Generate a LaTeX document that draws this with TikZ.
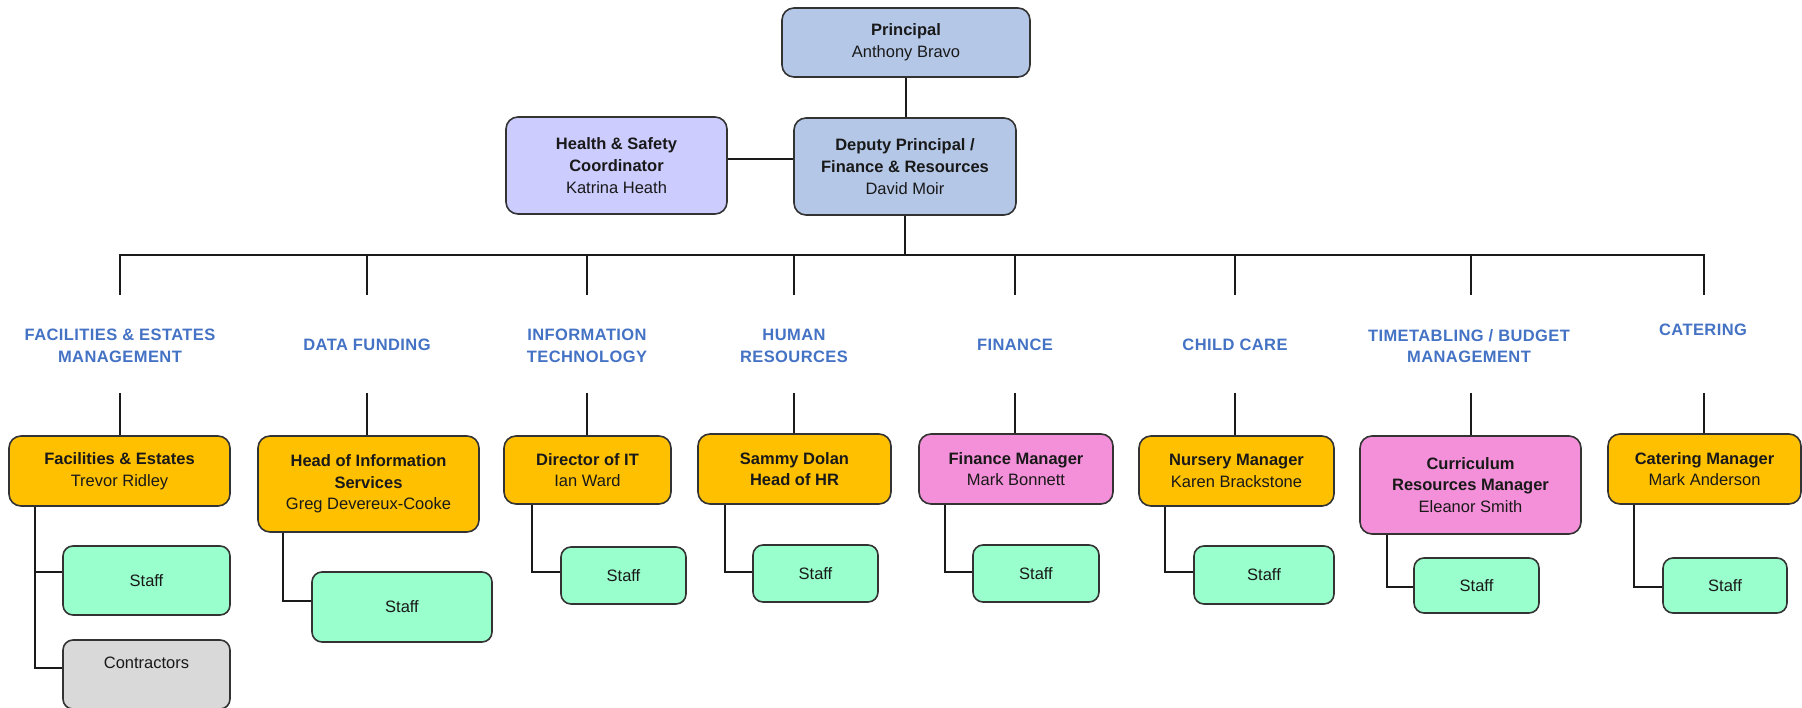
\documentclass[tikz,border=0pt]{standalone}
\usepackage{fontspec}
\setmainfont{Liberation Sans}
\newfontfamily\deptface[LetterSpace=2.5]{Liberation Sans}
\newcommand\chartfont{\fontsize{16.5}{21.7}\selectfont}
\definecolor{boxline}{HTML}{333333}
\definecolor{wire}{HTML}{1A1A1A}
\definecolor{topblue}{HTML}{B4C7E7}
\definecolor{safety}{HTML}{CCCCFF}
\definecolor{mgrorange}{HTML}{FFC000}
\definecolor{mgrpink}{HTML}{F490D9}
\definecolor{staffgreen}{HTML}{99FFCC}
\definecolor{contgray}{HTML}{D9D9D9}
\definecolor{deptblue}{HTML}{4472C4}
\begin{document}
\begin{tikzpicture}[x=1pt,y=-1pt,
  box/.style={draw=boxline, line width=1.6pt, rounded corners=12pt, inner sep=0pt,
              align=center, font=\chartfont, text=black!90},
  mgr/.style={box, fill=mgrorange},
  mgrp/.style={box, fill=mgrpink},
  staffbox/.style={box, fill=staffgreen, rounded corners=10pt},
  dept/.style={align=center, inner sep=0pt, font=\deptface\chartfont\bfseries, text=deptblue},
  wireline/.style={draw=wire, line width=1.5pt}]

\useasboundingbox (0,0) rectangle (1802,708);

% ---------- top of the chart ----------
\node[box, fill=topblue, minimum width=248pt, minimum height=69pt] (prin) at (906,42.5)
  {\textbf{Principal}\\Anthony Bravo};
\node[box, fill=topblue, minimum width=222pt, minimum height=97pt] (dep) at (905,166.5)
  {\textbf{Deputy Principal /}\\\textbf{Finance \& Resources}\\David Moir};
\node[box, fill=safety, minimum width=221pt, minimum height=97pt] (hs) at (616.5,165.5)
  {\textbf{Health \& Safety}\\\textbf{Coordinator}\\Katrina Heath};

\draw[wireline] (prin.south) -- (prin.south |- dep.north);
\draw[wireline] ([yshift=6.5pt]hs.east) -- ([yshift=7.5pt]dep.west);

% ---------- bus to the departments ----------
\coordinate (bus) at (904,255);
\foreach \i/\x in {1/120,2/367,3/587,4/794,5/1015,6/1235,7/1471,8/1704}{
  \coordinate (u\i) at (\x,255);
  \coordinate (t\i) at (\x,295);
  \coordinate (m\i) at (\x,393);
}
\draw[wireline] (dep.south) -- (dep.south |- bus);
\draw[wireline, line cap=rect] (u1) -- (u8);
\foreach \i in {1,...,8}{ \draw[wireline] (u\i) -- (t\i); }

% ---------- department headings ----------
\node[dept] (d1) at (120,346)  {FACILITIES \& ESTATES\\MANAGEMENT};
\node[dept] (d2) at (367,345)  {DATA FUNDING};
\node[dept] (d3) at (587,346)  {INFORMATION\\TECHNOLOGY};
\node[dept] (d4) at (794,346)  {HUMAN\\RESOURCES};
\node[dept] (d5) at (1015,345) {FINANCE};
\node[dept] (d6) at (1235,345) {CHILD CARE};
\node[dept] (d7) at (1469,346) {TIMETABLING / BUDGET\\MANAGEMENT};
\node[dept] (d8) at (1703,330) {CATERING};

% ---------- managers ----------
\node[mgr, minimum width=221pt, minimum height=70pt] (fac) at (119.5,471)
  {\textbf{Facilities \& Estates}\\Trevor Ridley};
\node[mgr, minimum width=221pt, minimum height=96pt] (his) at (368.5,484)
  {\textbf{Head of Information}\\\textbf{Services}\\Greg Devereux-Cooke};
\node[mgr, minimum width=167pt, minimum height=68pt] (dit) at (587.5,470)
  {\textbf{Director of IT}\\Ian Ward};
\node[mgr, minimum width=193pt, minimum height=70pt] (hr) at (794.5,469)
  {\textbf{Sammy Dolan}\\\textbf{Head of HR}};
\node[mgrp, minimum width=194pt, minimum height=70pt] (fin) at (1016,469)
  {\textbf{Finance Manager}\\Mark Bonnett};
\node[mgr, minimum width=195pt, minimum height=70pt] (nur) at (1236.5,471)
  {\textbf{Nursery Manager}\\Karen Brackstone};
\node[mgrp, minimum width=221pt, minimum height=98pt] (cur) at (1470.5,485)
  {\textbf{Curriculum}\\\textbf{Resources Manager}\\Eleanor Smith};
\node[mgr, minimum width=193pt, minimum height=70pt] (cat) at (1704.5,469)
  {\textbf{Catering Manager}\\Mark Anderson};

\foreach \i/\n in {1/fac,2/his,3/dit,4/hr,5/fin,6/nur,7/cur,8/cat}{
  \draw[wireline] (m\i) -- (m\i |- \n.north);
}

% ---------- staff ----------
\node[staffbox, minimum width=167pt, minimum height=69pt] (fstaff) at (146.5,580.5) {Staff};
\node[box, fill=contgray, rounded corners=10pt, minimum width=167pt, minimum height=69pt,
      text depth=23pt] (fcon) at (146.5,674.5) {Contractors};
\node[staffbox, minimum width=180pt, minimum height=70pt] (hstaff) at (402,607) {Staff};
\node[staffbox, minimum width=125pt, minimum height=57pt] (itstaff) at (623.5,575.5) {Staff};
\node[staffbox, minimum width=125pt, minimum height=57pt] (hrstaff) at (815.5,573.5) {Staff};
\node[staffbox, minimum width=126pt, minimum height=57pt] (finstaff) at (1036,573.5) {Staff};
\node[staffbox, minimum width=140pt, minimum height=58pt] (nurstaff) at (1264,575) {Staff};
\node[staffbox, minimum width=125pt, minimum height=55pt] (curstaff) at (1476.5,585.5) {Staff};
\node[staffbox, minimum width=124pt, minimum height=55pt] (catstaff) at (1725,585.5) {Staff};

% elbow connectors from each manager down to its staff
\coordinate (fj) at ([xshift=27pt]fac.south west);
\draw[wireline] (fj) |- ([yshift=8.5pt]fstaff.west);
\draw[wireline] (fj) |- ([yshift=6.5pt]fcon.west);
\draw[wireline] ([xshift=26pt]his.south west) |- ([yshift=6pt]hstaff.west);
\draw[wireline] ([xshift=29pt]dit.south west) |- ([yshift=3.5pt]itstaff.west);
\draw[wireline] ([xshift=28pt]hr.south west) |- ([yshift=1.5pt]hrstaff.west);
\draw[wireline] ([xshift=27pt]fin.south west) |- ([yshift=1.5pt]finstaff.west);
\draw[wireline] ([xshift=27pt]nur.south west) |- ([yshift=3pt]nurstaff.west);
\draw[wireline] ([xshift=28pt]cur.south west) |- ([yshift=-1.5pt]curstaff.west);
\draw[wireline] ([xshift=27pt]cat.south west) |- ([yshift=-1.5pt]catstaff.west);

\end{tikzpicture}
\end{document}
